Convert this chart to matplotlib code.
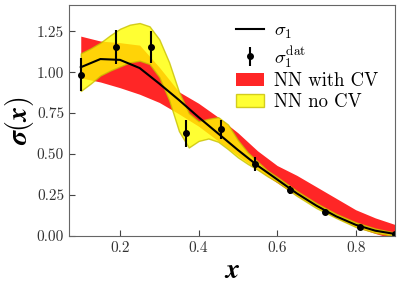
import matplotlib
matplotlib.use("Agg")
import matplotlib.pyplot as plt
from matplotlib.patches import Patch

plt.rcParams["font.family"] = "serif"
plt.rcParams["font.serif"] = ["cmr10"]
plt.rcParams["mathtext.fontset"] = "cm"
plt.rcParams["axes.formatter.use_mathtext"] = True

# true sigma_1 curve
x_true = [0.10, 0.15, 0.20, 0.25, 0.30, 0.35, 0.40, 0.45, 0.50,
          0.55, 0.60, 0.65, 0.70, 0.75, 0.80, 0.85, 0.90]
sigma_true = [1.03, 1.08, 1.075, 1.025, 0.93, 0.83, 0.725, 0.625, 0.525,
              0.43, 0.345, 0.26, 0.185, 0.12, 0.068, 0.032, 0.012]

# pseudo data
x_dat = [0.100, 0.189, 0.278, 0.367, 0.456, 0.544, 0.633, 0.722, 0.811, 0.900]
sigma_dat = [0.984, 1.154, 1.154, 0.626, 0.650, 0.439, 0.280, 0.148, 0.057, 0.012]
sigma_err = [0.10, 0.105, 0.10, 0.08, 0.06, 0.04, 0.025, 0.012, 0.008, 0.005]

# NN with cross-validation (red band)
x_cv = x_true
cv_low = [0.965, 0.94, 0.905, 0.865, 0.815, 0.745, 0.67, 0.58, 0.49,
          0.405, 0.325, 0.245, 0.175, 0.11, 0.055, 0.015, -0.02]
cv_high = [1.22, 1.19, 1.18, 1.165, 1.03, 0.88, 0.81, 0.725, 0.63,
           0.52, 0.43, 0.37, 0.30, 0.23, 0.16, 0.11, 0.07]

# NN without cross-validation (yellow band)
x_nocv = [0.100, 0.125, 0.150, 0.175, 0.200, 0.225, 0.250, 0.275, 0.300,
          0.325, 0.350, 0.375, 0.400, 0.425, 0.450, 0.475, 0.500, 0.525,
          0.550, 0.575, 0.600, 0.650, 0.700, 0.750, 0.800, 0.850, 0.900]
nocv_low = [0.885, 0.93, 0.98, 1.01, 1.035, 1.06, 1.07, 1.05, 0.97,
            0.83, 0.64, 0.54, 0.58, 0.595, 0.575, 0.53, 0.48, 0.44,
            0.405, 0.365, 0.33, 0.245, 0.17, 0.11, 0.055, 0.02, 0.0]
nocv_high = [1.115, 1.145, 1.18, 1.225, 1.265, 1.29, 1.30, 1.28, 1.20,
             1.06, 0.88, 0.75, 0.70, 0.715, 0.725, 0.68, 0.585, 0.51,
             0.455, 0.40, 0.36, 0.275, 0.20, 0.135, 0.083, 0.045, 0.02]

fig, ax = plt.subplots(figsize=(4.01, 2.86), dpi=100)
fig.subplots_adjust(left=0.172, right=0.985, bottom=0.175, top=0.9825)

red = ax.fill_between(x_cv, cv_low, cv_high, color="red", alpha=0.85, lw=0)
yel = ax.fill_between(x_nocv, nocv_low, nocv_high, facecolor="yellow",
                      edgecolor="#c8c000", alpha=0.8, lw=1.0)
ln, = ax.plot(x_true, sigma_true, color="black", lw=1.5)
eb = ax.errorbar(x_dat, sigma_dat, yerr=sigma_err, fmt="o", color="black",
                 ms=4, elinewidth=1.5, capsize=0)

ax.set_xlim(0.07, 0.90)
ax.set_ylim(0.0, 1.41)
ax.set_xticks([0.2, 0.4, 0.6, 0.8])
ax.set_yticks([0.0, 0.25, 0.5, 0.75, 1.0, 1.25])
ax.set_yticklabels(["0.00", "0.25", "0.50", "0.75", "1.00", "1.25"])
ax.set_xticklabels(["0.2", "0.4", "0.6", "0.8"])
ax.tick_params(direction="in", length=4, labelsize=11, colors="#444444",
               labelcolor="#333333")
for s in ax.spines.values():
    s.set_color("#666666")

ax.set_xlabel(r"$\boldsymbol{x}$", fontsize=20, labelpad=2)
ax.set_ylabel(r"$\boldsymbol{\sigma(x)}$", fontsize=20, labelpad=0.5)

handles = [ln, eb, Patch(facecolor="red", alpha=0.85, lw=0),
           Patch(facecolor="yellow", edgecolor="#c8c000", alpha=0.8)]
labels = [r"$\boldsymbol{\sigma_1}$", r"$\boldsymbol{\sigma_1^{\rm dat}}$",
          "NN with CV", "NN no CV"]
ax.legend(handles, labels, loc="upper right", frameon=False, fontsize=13.5,
          handlelength=1.5, handletextpad=0.5, labelspacing=0.15,
          borderaxespad=0.5)

fig.savefig("out.png", dpi=100)
